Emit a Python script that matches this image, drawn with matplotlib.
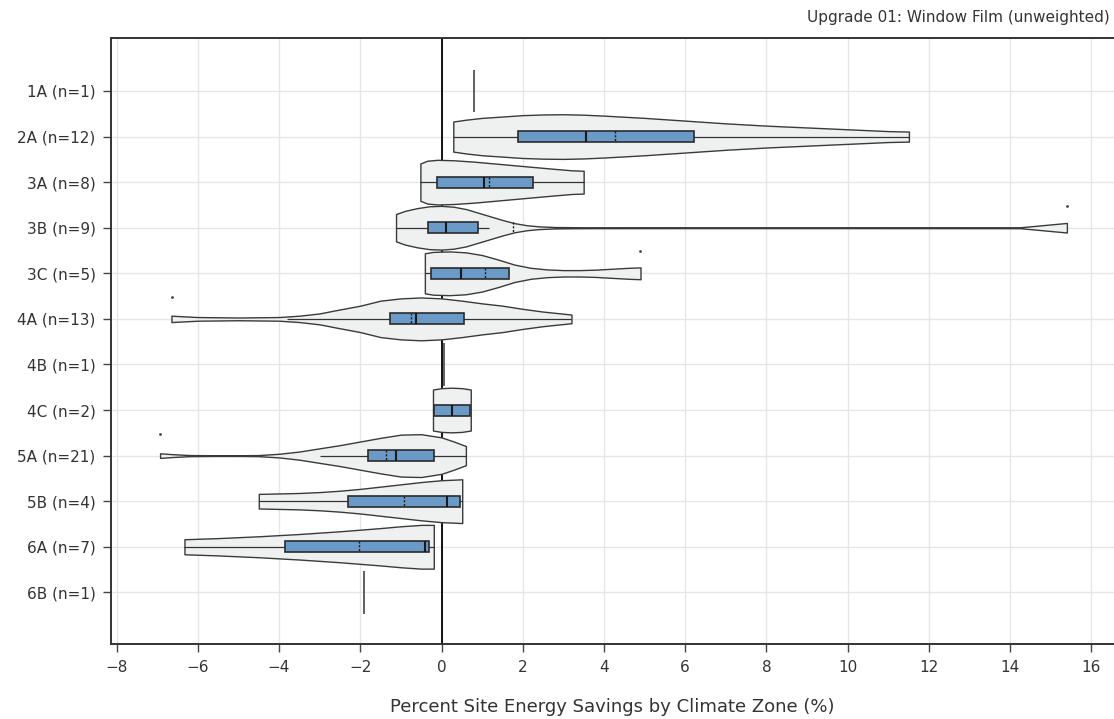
import matplotlib.pyplot as plt

zones = ["1A", "2A", "3A", "3B", "3C", "4A", "4B", "4C", "5A", "5B", "6A", "6B"]
counts = [1, 12, 8, 9, 5, 13, 1, 2, 21, 4, 7, 1]

# zones with a single building: drawn as a line
single_value = {"1A": 0.79, "4B": 0.05, "6B": -1.91}

# violin outline: x position and half width (row units)
violin_x = {
    "2A": [0.29, 0.6, 1.0, 1.5, 2.0, 2.5, 3.0, 3.5, 4.0, 5.0, 6.0, 7.0, 8.0, 9.0, 10.0, 11.0, 11.51],
    "3A": [-0.52, -0.35, -0.1, 0.3, 0.8, 1.3, 1.8, 2.3, 2.8, 3.2, 3.5],
    "3B": [-1.12, -0.9, -0.6, -0.3, 0.0, 0.3, 0.6, 0.9, 1.2, 1.5, 1.8, 2.1, 2.4, 2.8, 3.5, 6.0, 10.0, 14.25, 15.4],
    "3C": [-0.41, -0.2, 0.2, 0.6, 1.0, 1.4, 1.8, 2.2, 2.6, 3.0, 3.4, 3.8, 4.2, 4.6, 4.9],
    "4A": [-6.65, -6.0, -5.0, -4.0, -3.5, -3.0, -2.6, -2.0, -1.5, -1.0, -0.5, 0.0, 0.5, 1.0, 1.5, 2.0, 2.5, 3.2],
    "4C": [-0.21, 0.0, 0.25, 0.5, 0.72],
    "5A": [-6.93, -6.6, -6.2, -5.6, -5.0, -4.5, -4.0, -3.5, -3.0, -2.5, -2.0, -1.5, -1.0, -0.5, 0.0, 0.3, 0.6],
    "5B": [-4.5, -4.0, -3.5, -3.0, -2.5, -2.0, -1.5, -1.0, -0.5, 0.0, 0.51],
    "6A": [-6.33, -5.5, -4.5, -3.5, -2.5, -1.5, -1.0, -0.5, -0.19],
}
violin_hw = {
    "2A": [0.33, 0.37, 0.41, 0.44, 0.47, 0.485, 0.49, 0.48, 0.46, 0.41, 0.35, 0.29, 0.24, 0.20, 0.16, 0.12, 0.11],
    "3A": [0.41, 0.47, 0.49, 0.48, 0.45, 0.41, 0.37, 0.33, 0.29, 0.26, 0.25],
    "3B": [0.30, 0.37, 0.43, 0.47, 0.48, 0.46, 0.41, 0.33, 0.25, 0.17, 0.10, 0.055, 0.03, 0.015, 0.01, 0.008, 0.008, 0.01, 0.105],
    "3C": [0.44, 0.47, 0.48, 0.46, 0.40, 0.30, 0.19, 0.12, 0.085, 0.07, 0.07, 0.08, 0.10, 0.12, 0.13],
    "4A": [0.07, 0.04, 0.03, 0.04, 0.07, 0.12, 0.19, 0.29, 0.40, 0.45, 0.47, 0.45, 0.40, 0.34, 0.29, 0.22, 0.16, 0.095],
    "4C": [0.45, 0.48, 0.49, 0.48, 0.45],
    "5A": [0.05, 0.03, 0.012, 0.008, 0.008, 0.012, 0.04, 0.09, 0.16, 0.23, 0.31, 0.39, 0.46, 0.47, 0.40, 0.31, 0.21],
    "5B": [0.16, 0.17, 0.18, 0.20, 0.23, 0.27, 0.32, 0.37, 0.42, 0.46, 0.48],
    "6A": [0.165, 0.19, 0.23, 0.28, 0.34, 0.41, 0.45, 0.48, 0.48],
}

# box statistics (None = not drawn)
q1 = [None, 1.89, -0.11, -0.34, -0.25, -1.26, None, -0.19, -1.80, -2.30, -3.85, None]
median = [None, 3.55, 1.04, 0.10, 0.49, -0.62, None, 0.26, -1.12, 0.14, -0.40, None]
q3 = [None, 6.22, 2.26, 0.89, 1.67, 0.56, None, 0.70, -0.18, 0.45, -0.31, None]
mean = [None, 4.27, 1.17, 1.77, 1.07, -0.74, None, None, -1.36, -0.93, -2.02, None]
whisker_lo = [None, 0.29, -0.52, -1.12, -0.41, -3.80, None, None, -3.0, -4.5, -6.33, None]
whisker_hi = [None, 11.51, 3.50, 1.17, 1.67, 3.20, None, None, 0.60, 0.51, -0.19, None]

outlier_zone = ["3B", "3C", "4A", "5A"]
outlier_value = [15.4, 4.9, -6.63, -6.92]

fig = plt.figure(figsize=(11.14, 7.19), dpi=100)
ax = fig.add_axes([0.0996, 0.1039, 0.9004, 0.8437])

violin_face = "#eff0f0"
violin_edge = "#3a3a3a"
box_face = "#6a9ac8"
box_half = 0.12

ax.axvline(0, color="black", lw=1.3, zorder=1)

for i, z in enumerate(zones):
    if z in single_value:
        ax.vlines(single_value[z], i - 0.47, i + 0.47, color="#444444", lw=1.2, zorder=3)
        continue
    xs = violin_x[z]
    hw = violin_hw[z]
    ax.fill_between(xs, [i - w for w in hw], [i + w for w in hw],
                    facecolor=violin_face, edgecolor=violin_edge, lw=1.0, zorder=2)
    if whisker_lo[i] is not None:
        ax.hlines(i, whisker_lo[i], whisker_hi[i], color="#333333", lw=0.9, zorder=3)
    ax.barh(i, q3[i] - q1[i], left=q1[i], height=2 * box_half, color=box_face,
            edgecolor="#2b2b2b", lw=1.2, zorder=4)
    ax.vlines(median[i], i - box_half, i + box_half, color="#1a1a1a", lw=1.5, zorder=5)
    if mean[i] is not None:
        ax.vlines(mean[i], i - box_half, i + box_half, color="#1a1a1a", lw=1.0,
                  linestyles=(0, (1.5, 1.2)), zorder=5)

for z, v in zip(outlier_zone, outlier_value):
    ax.plot(v, zones.index(z) - 0.48, "s", ms=0.9, color="#444444", zorder=5)

ax.set_xlim(-8.14, 16.56)
ax.set_ylim(12.14, -1.17)
ax.set_xticks(range(-8, 17, 2))
ax.set_xticklabels([str(t).replace("-", "\u2212") for t in range(-8, 17, 2)])
ax.set_yticks(range(len(zones)))
ax.set_yticklabels([f"{z} (n={n})" for z, n in zip(zones, counts)])

ax.grid(True, color="#e6e6e6", lw=1.0, zorder=0)
ax.set_axisbelow(True)
ax.tick_params(axis="both", length=6, width=1, color="#444444", labelcolor="#333333",
               labelsize=11, pad=5)

for side in ["left", "bottom", "top"]:
    ax.spines[side].set_color("#333333")
    ax.spines[side].set_linewidth(1.4)
ax.spines["right"].set_visible(False)

ax.set_xlabel("Percent Site Energy Savings by Climate Zone (%)", fontsize=13,
              color="#333333", labelpad=17)
fig.text(0.9965, 0.975, "Upgrade 01: Window Film (unweighted)", ha="right", va="center",
         fontsize=11, color="#333333")

fig.savefig("out.png", dpi=100)
